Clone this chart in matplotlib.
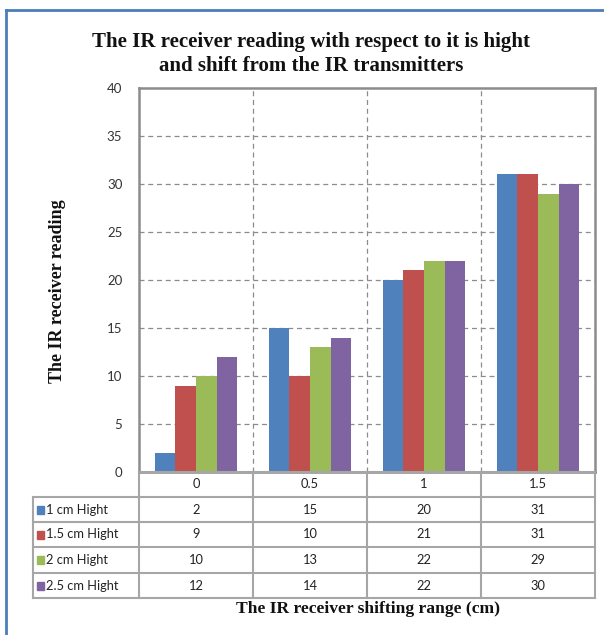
import matplotlib.pyplot as plt
from matplotlib.lines import Line2D
from matplotlib.patches import Rectangle
import numpy as np

# data
shift_range = ["0", "0.5", "1", "1.5"]
series_names = ["1 cm Hight", "1.5 cm Hight", "2 cm Hight", "2.5 cm Hight"]
h_1cm = [2, 15, 20, 31]
h_15cm = [9, 10, 21, 31]
h_2cm = [10, 13, 22, 29]
h_25cm = [12, 14, 22, 30]
colors = ["#4F81BD", "#C0504D", "#9BBB59", "#8064A2"]

W, H = 604, 635
fig = plt.figure(figsize=(W / 100, H / 100), dpi=100)


def fx(px):
    return px / W


def fy(py):
    return 1 - py / H


# plot area in pixels
left, right, top, bottom = 139, 595, 88, 472
ax = fig.add_axes([fx(left), fy(bottom), fx(right - left), fy(top) - fy(bottom)])

x = np.arange(len(shift_range))
bw = 0.18
all_series = [h_1cm, h_15cm, h_2cm, h_25cm]
for i, (vals, c) in enumerate(zip(all_series, colors)):
    ax.bar(x + (i - 1.5) * bw, vals, bw, color=c, zorder=3)

ax.set_xlim(-0.5, len(shift_range) - 0.5)
ax.set_ylim(0, 40)
ax.set_yticks(range(0, 45, 5))
ax.set_xticks([])
ax.tick_params(axis="y", length=0, pad=12, labelsize=9.5, colors="#333333")
for lab in ax.get_yticklabels():
    lab.set_fontfamily("Lato")
for yv in range(5, 40, 5):
    ax.axhline(yv, color="#8c8c8c", lw=0.9, ls=(0, (4, 3)), zorder=1)
for xv in x[:-1] + 0.5:
    ax.axvline(xv, color="#8c8c8c", lw=0.9, ls=(0, (4, 3)), zorder=1)
for s in ax.spines.values():
    s.set_color("#8c8c8c")
    s.set_linewidth(1.8)

# data table below the plot
row_y = [472, 497, 522, 547, 573, 598]
tab_left = 33
col_x = [left + (right - left) * k / len(shift_range) for k in range(len(shift_range) + 1)]
gc = "#a6a6a6"
# horizontal lines
fig.add_artist(Line2D([fx(left), fx(right)], [fy(row_y[0])] * 2, color=gc, lw=1.5))
for ry in row_y[1:]:
    fig.add_artist(Line2D([fx(tab_left), fx(right)], [fy(ry)] * 2, color=gc, lw=1.5))
# vertical lines
fig.add_artist(Line2D([fx(tab_left)] * 2, [fy(row_y[1]), fy(row_y[-1])], color=gc, lw=1.5))
for cx in col_x:
    fig.add_artist(Line2D([fx(cx)] * 2, [fy(row_y[0]), fy(row_y[-1])], color=gc, lw=1.5))

tfont = dict(fontfamily="Lato", fontsize=9.3, color="#222222", va="center")
for j, lab in enumerate(shift_range):
    fig.text(fx((col_x[j] + col_x[j + 1]) / 2), fy((row_y[0] + row_y[1]) / 2),
             lab, ha="center", **tfont)
for i, (name, vals, c) in enumerate(zip(series_names, all_series, colors)):
    yc = (row_y[i + 1] + row_y[i + 2]) / 2
    fig.add_artist(Rectangle((fx(37), fy(yc + 4)), fx(7), fy(yc - 4) - fy(yc + 4),
                             color=c, transform=fig.transFigure))
    fig.text(fx(46), fy(yc), name, ha="left", **tfont)
    for j, v in enumerate(vals):
        fig.text(fx((col_x[j] + col_x[j + 1]) / 2), fy(yc), str(v), ha="center", **tfont)

# titles
serif = dict(fontfamily="Liberation Serif", fontweight="bold", color="#111111")
fig.text(fx(311), fy(42), "The IR receiver reading with respect to it is hight",
         ha="center", va="center", fontsize=15, **serif)
fig.text(fx(311), fy(66), "and shift from the IR transmitters",
         ha="center", va="center", fontsize=15, **serif)
fig.text(fx(368), fy(609), "The IR receiver shifting range (cm)",
         ha="center", va="center", fontsize=12.6, **serif)
fig.text(fx(58), fy(291), "The IR receiver reading", rotation=90,
         ha="center", va="center", fontsize=13, **serif)

# outer chart border
bc = "#4a7ebb"
fig.add_artist(Line2D([fx(6), fx(6)], [fy(10), 0], color=bc, lw=2))
fig.add_artist(Line2D([fx(6), 1], [fy(10), fy(10)], color=bc, lw=2))

fig.savefig("out.png", dpi=100)
